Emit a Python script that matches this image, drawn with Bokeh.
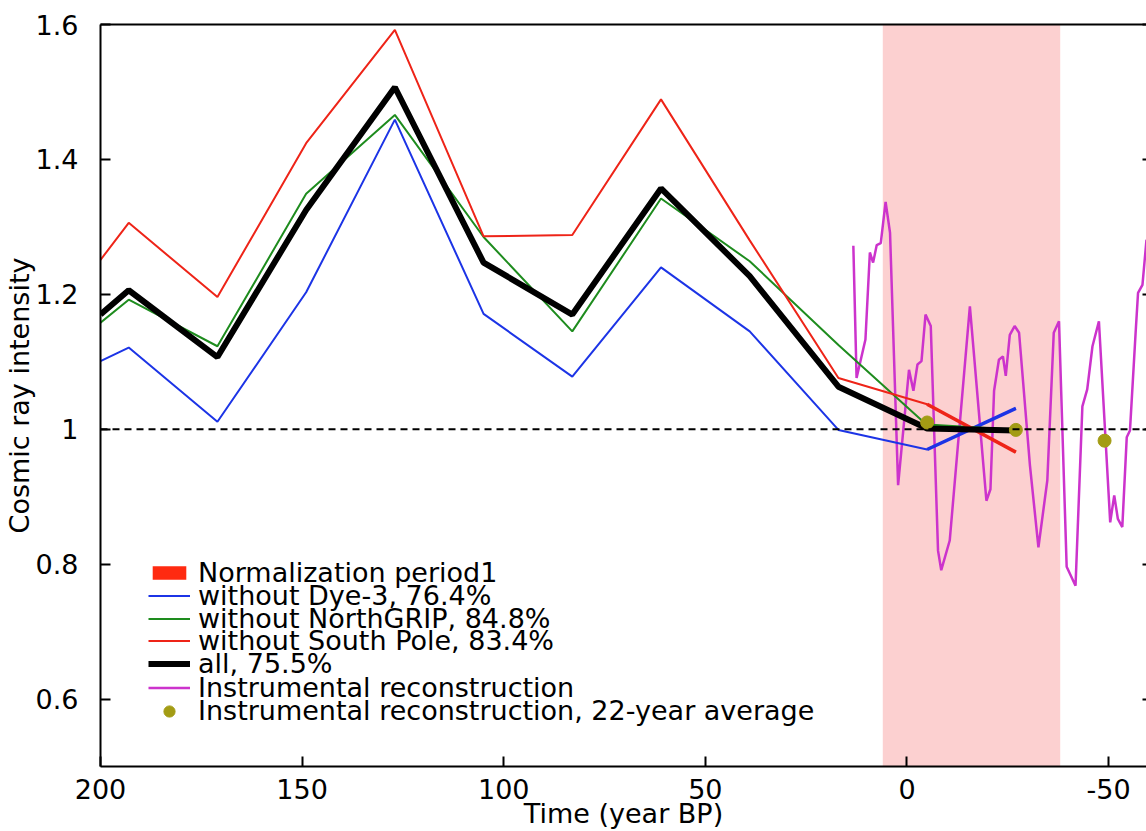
from bokeh.plotting import figure
from bokeh.models import (Range1d, LinearAxis, FixedTicker, Span, BoxAnnotation,
                          Legend, LegendItem, CustomJSTickFormatter)
from bokeh.embed import file_html
from bokeh.resources import INLINE
import numpy as np

# ---- data ----
years = [200, 193, 171, 149, 127, 105, 83, 61, 39, 17, -5, -27]
no_dye3 = [1.101, 1.121, 1.011, 1.203, 1.459, 1.171, 1.078, 1.240, 1.145, 0.999, 0.970, 1.031]
no_ngrip = [1.158, 1.192, 1.123, 1.349, 1.466, 1.285, 1.145, 1.342, 1.249, 1.125, 1.006, 0.998]
no_spole = [1.251, 1.306, 1.196, 1.424, 1.592, 1.286, 1.288, 1.489, 1.280, 1.076, 1.037, 0.966]
all_cores = [1.170, 1.206, 1.107, 1.325, 1.507, 1.247, 1.170, 1.357, 1.227, 1.063, 1.001, 0.998]

instr_years = [13.3, 12.5, 10.3, 9.2, 8.4, 7.5, 6.5, 5.3, 4.2, 2.2, -0.5, -1.6, -2.6, -3.6,
               -4.6, -5.9, -7.7, -8.5, -10.6, -15.6, -19.1, -19.7, -20.7, -21.6, -22.8,
               -23.8, -24.5, -25.5, -26.7, -27.8, -30.5, -32.6, -34.8, -36.4, -37.7, -39.6,
               -41.8, -43.5, -44.7, -46.0, -47.6, -50.4, -51.4, -52.3, -53.4, -54.5, -55.3,
               -56.7, -57.3, -58.4, -59.4]
instr_vals = [1.272, 1.076, 1.133, 1.262, 1.247, 1.273, 1.276, 1.337, 1.291, 0.917, 1.088,
              1.057, 1.096, 1.101, 1.170, 1.153, 0.820, 0.791, 0.835, 1.182, 0.936, 0.894,
              0.911, 1.057, 1.103, 1.108, 1.079, 1.140, 1.153, 1.143, 0.946, 0.825, 0.924,
              1.143, 1.160, 0.796, 0.768, 1.034, 1.059, 1.123, 1.160, 0.862, 0.902, 0.867,
              0.855, 0.988, 0.998, 1.143, 1.202, 1.214, 1.281]

avg22_years = [-5, -27, -49]
avg22_vals = [1.010, 0.999, 0.983]

norm_start, norm_end = 6, -38
x_ticks = [200, 150, 100, 50, 0, -50]
y_ticks = [0.6, 0.8, 1.0, 1.2, 1.4, 1.6]
x_lim = (200, -59.4)
y_lim = (0.5, 1.6)

legend_labels = ["Normalization period1", "without Dye-3, 76.4%", "without NorthGRIP, 84.8%",
                 "without South Pole, 83.4%", "all, 75.5%", "Instrumental reconstruction",
                 "Instrumental reconstruction, 22-year average"]

FONT = "DejaVu Sans"
FS = "27px"

p = figure(width=1146, height=831, x_range=Range1d(*x_lim), y_range=Range1d(*y_lim),
           output_backend="svg", toolbar_location=None,
           min_border_left=100, min_border_top=24, min_border_right=0, min_border_bottom=63,
           x_axis_label="Time (year BP)", y_axis_label="Cosmic ray intensity")
p.outline_line_color = None
p.grid.visible = False
p.background_fill_color = "white"

for ax in (p.xaxis[0], p.yaxis[0]):
    ax.major_label_text_font = FONT
    ax.major_label_text_font_size = FS
    ax.axis_label_text_font = FONT
    ax.axis_label_text_font_size = FS
    ax.axis_label_text_font_style = "normal"
    ax.major_tick_in = 10
    ax.major_tick_out = 0
    ax.minor_tick_in = 0
    ax.minor_tick_out = 0
    ax.axis_line_width = 2
    ax.major_tick_line_width = 2
    ax.axis_line_color = "black"
    ax.major_label_text_color = "black"
    ax.axis_label_text_color = "black"

p.xaxis[0].ticker = FixedTicker(ticks=x_ticks)
p.xaxis[0].formatter = CustomJSTickFormatter(code="return String(Math.round(tick));")
p.yaxis[0].ticker = FixedTicker(ticks=y_ticks)
p.yaxis[0].formatter = CustomJSTickFormatter(code="return String(Math.round(tick*10)/10);")
p.xaxis[0].major_label_standoff = 12
p.xaxis[0].axis_label_standoff = -4
p.yaxis[0].major_label_standoff = 22
p.yaxis[0].axis_label_standoff = -2

blank = CustomJSTickFormatter(code="return '';")
top_ax = LinearAxis(ticker=FixedTicker(ticks=x_ticks), formatter=blank,
                    major_tick_in=0, major_tick_out=0, minor_tick_in=0, minor_tick_out=0,
                    axis_line_width=2, major_label_standoff=0)
p.add_layout(top_ax, "above")
right_ax = LinearAxis(ticker=FixedTicker(ticks=y_ticks), formatter=blank,
                      major_tick_in=4, major_tick_out=0, minor_tick_in=0, minor_tick_out=0,
                      axis_line_color=None, major_tick_line_width=2, major_label_standoff=0)
p.add_layout(right_ax, "right")

box = BoxAnnotation(left=norm_start, right=norm_end, fill_color="#f02828", fill_alpha=0.22,
                    line_color=None, level="underlay")
p.add_layout(box)

p.add_layout(Span(location=1.0, dimension="width", line_color="black", line_width=2,
                  line_dash="7 5"))

BLUE, GREEN, RED = "#1c34e6", "#1e8c1e", "#ee2418"
r_norm = p.quad(left=[np.nan], right=[np.nan], bottom=[np.nan], top=[np.nan],
                fill_color="#ff2a10", line_color=None)
r_instr = p.line(instr_years, instr_vals, line_color="#cc33cc", line_width=2.5)
r_blue = p.line(years, no_dye3, line_color=BLUE, line_width=2)
p.line(years[-2:], no_dye3[-2:], line_color=BLUE, line_width=3.5)
r_green = p.line(years, no_ngrip, line_color=GREEN, line_width=2)
p.line(years[-2:], no_ngrip[-2:], line_color=GREEN, line_width=3.5)
r_red = p.line(years, no_spole, line_color=RED, line_width=2)
p.line(years[-2:], no_spole[-2:], line_color=RED, line_width=3.5)
r_black = p.line(years, all_cores, line_color="black", line_width=6)
r_dots = p.scatter(avg22_years, avg22_vals, marker="circle", size=13, fill_color="#a39c14",
                   line_color="#a39c14")

renderers = [r_norm, r_blue, r_green, r_red, r_black, r_instr, r_dots]
row_bottoms = [178, 155, 132, 110, 87, 63, 40]
for i, (lab, rr) in enumerate(zip(legend_labels, renderers)):
    lg = Legend(items=[LegendItem(label=lab, renderers=[rr])], location=(48, row_bottoms[i]))
    lg.label_text_font = FONT
    lg.label_text_font_size = FS
    lg.label_text_color = "black"
    lg.glyph_width = 42
    lg.glyph_height = 28 if rr is r_dots else 17
    lg.label_height = 17
    lg.label_standoff = 8
    lg.spacing = 0
    lg.padding = 0
    lg.margin = 0
    lg.border_line_color = None
    lg.background_fill_alpha = 0
    p.add_layout(lg)

open("out.html", "w").write(file_html(p, INLINE))
